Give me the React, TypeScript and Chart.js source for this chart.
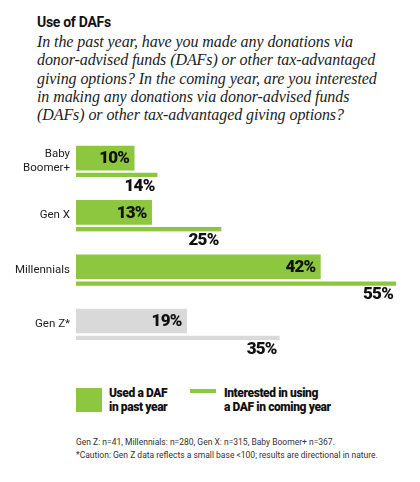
import React, { useEffect, useRef } from "react";
import { Chart, registerables } from "chart.js";

Chart.register(...registerables);

const categories: (string | string[])[] = [["Baby", "Boomer+"], "Gen X", "Millennials", "Gen Z*"];
const usedPastYear = [10, 13, 42, 19];
const interestedComingYear = [14, 25, 55, 35];
const seriesNames = ["Used a DAF in past year", "Interested in using a DAF in coming year"];
const barColors = ["#8dc63f", "#8dc63f", "#8dc63f", "#d9d9d9"];

const GREEN = "#8dc63f";

const valueLabels = {
  id: "valueLabels",
  afterDatasetsDraw(chart: any) {
    const ctx = chart.ctx;
    ctx.save();
    ctx.fillStyle = "#111";
    ctx.font = "900 17px Roboto";
    try { (ctx as any).letterSpacing = "-0.8px"; } catch (e) {}
    ctx.textAlign = "right";
    ctx.textBaseline = "middle";
    chart.data.datasets.forEach((ds: any, di: number) => {
      const meta = chart.getDatasetMeta(di);
      meta.data.forEach((el: any, i: number) => {
        const v = ds.data[i];
        if (di === 0) ctx.fillText(v + "%", el.x - 5, el.y + 1);
        else ctx.fillText(v + "%", el.x - 3, el.y + 13);
      });
    });
    ctx.restore();
  },
};

export default function App() {
  const ref = useRef<HTMLCanvasElement>(null);
  useEffect(() => {
    if (!ref.current) return;
    const chart = new Chart(ref.current, {
      type: "bar",
      data: {
        labels: categories,
        datasets: [
          {
            label: seriesNames[0],
            data: usedPastYear,
            backgroundColor: barColors,
            barThickness: 24,
            borderWidth: 0,
          },
          {
            label: seriesNames[1],
            data: interestedComingYear,
            backgroundColor: barColors,
            barThickness: 7,
            borderWidth: { top: 3, right: 0, bottom: 0, left: 0 },
            borderColor: "rgba(0,0,0,0)",
          },
        ],
      },
      options: {
        indexAxis: "y",
        responsive: false,
        animation: false,
        layout: { padding: { top: 3, bottom: 6, right: 24, left: 0 } },
        plugins: { legend: { display: false }, tooltip: { enabled: false } },
        scales: {
          x: { display: false, min: 0, max: 55 },
          y: {
            grid: { display: false, drawTicks: false },
            border: { display: false },
            ticks: {
              padding: 6,
              labelOffset: -9,
              color: "#222",
              font: { family: "Roboto", size: 11.5, lineHeight: 1.2 },
            },
            afterFit(scale: any) {
              scale.width = 76;
            },
          },
        },
      },
      plugins: [valueLabels],
    });
    return () => chart.destroy();
  }, []);

  const abs = (s: React.CSSProperties): React.CSSProperties => ({ position: "absolute", margin: 0, ...s });

  return (
    <div style={{ position: "fixed", left: 0, top: 0, width: 420, height: 482, background: "#fff", overflow: "hidden" }}>
      <div style={abs({ left: 37, top: 14, font: "bold 14px/16px Roboto", letterSpacing: "-0.3px", color: "#111" })}>
        Use of DAFs
      </div>
      <div
        style={abs({
          left: 37,
          top: 33,
          width: 380,
          font: "italic 16px/18.3px 'Liberation Serif'",
          letterSpacing: "-0.08px",
          color: "#222",
          whiteSpace: "pre",
        })}
      >
        {"In the past year, have you made any donations via\ndonor-advised funds (DAFs) or other tax-advantaged\ngiving options? In the coming year, are you interested\nin making any donations via donor-advised funds\n(DAFs) or other tax-advantaged giving options?"}
      </div>
      <canvas ref={ref} width={420} height={250} style={abs({ left: 0, top: 130, width: 420, height: 250 })} />
      <div style={abs({ left: 76, top: 388, width: 26, height: 24, background: GREEN })} />
      <div style={abs({ left: 109, top: 386, font: "900 12px/14px Roboto", letterSpacing: "-0.4px", color: "#111", whiteSpace: "pre" })}>
        {"Used a DAF\nin past year"}
      </div>
      <div style={abs({ left: 190, top: 389, width: 26, height: 4, background: GREEN })} />
      <div style={abs({ left: 224, top: 386, font: "900 12px/14px Roboto", letterSpacing: "-0.4px", color: "#111", whiteSpace: "pre" })}>
        {"Interested in using\na DAF in coming year"}
      </div>
      <div style={abs({ left: 76, top: 436, font: "8.5px/13px Roboto", color: "#333", whiteSpace: "pre" })}>
        {"Gen Z: n=41, Millennials: n=280, Gen X: n=315, Baby Boomer+ n=367.\n*Caution: Gen Z data reflects a small base <100; results are directional in nature."}
      </div>
    </div>
  );
}
